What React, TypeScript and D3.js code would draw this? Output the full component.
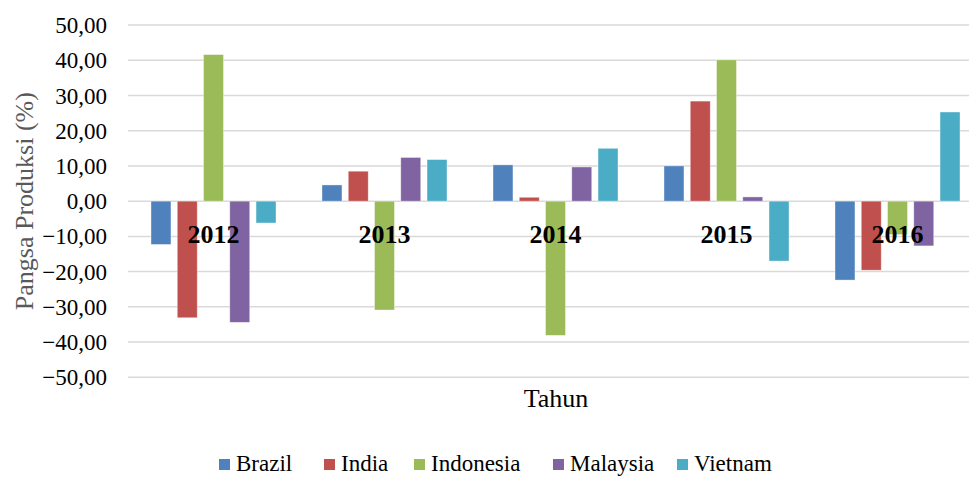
import * as d3 from "d3";
import { useEffect, useRef } from "react";

const years = ["2012", "2013", "2014", "2015", "2016"];
const countries = ["Brazil", "India", "Indonesia", "Malaysia", "Vietnam"];
const colors = ["#4F81BD", "#C0504D", "#9BBB59", "#8064A2", "#4BACC6"];

// pangsa produksi (%) per country, one value per year
const brazil = [-12.3, 4.6, 10.3, 10.0, -22.4];
const india = [-33.1, 8.5, 1.1, 28.4, -19.6];
const indonesia = [41.6, -30.9, -38.1, 40.1, -9.5];
const malaysia = [-34.4, 12.4, 9.7, 1.2, -12.7];
const vietnam = [-6.2, 11.8, 15.0, -17.0, 25.3];

const yTicks = [50, 40, 30, 20, 10, 0, -10, -20, -30, -40, -50];

const WIDTH = 969;
const HEIGHT = 477;
const FONT = "Liberation Serif";

export default function App() {
  const svgRef = useRef<SVGSVGElement>(null);

  useEffect(() => {
    if (!svgRef.current) return;
    const svg = d3.select(svgRef.current);
    svg.selectAll("*").remove();

    const series = [brazil, india, indonesia, malaysia, vietnam];
    const left = 128;
    const right = 983; // plot runs past the right edge, as in the source

    const y = d3.scaleLinear().domain([-50, 50]).range([377.3, 25]);
    const x0 = d3.scaleBand().domain(years).range([left, right]);
    const x1 = d3
      .scaleBand()
      .domain(countries)
      .range([23, x0.bandwidth() - 23])
      .paddingInner(0.24);

    // Grid lines
    svg
      .append("g")
      .selectAll("line")
      .data(yTicks)
      .join("line")
      .attr("x1", left)
      .attr("x2", WIDTH)
      .attr("y1", (d) => y(d))
      .attr("y2", (d) => y(d))
      .style("stroke", "#d9d9d9")
      .style("stroke-width", 1.5);

    // Tick labels
    svg
      .append("g")
      .selectAll("text")
      .data(yTicks)
      .join("text")
      .attr("x", 107)
      .attr("y", (d) => y(d))
      .attr("dy", "0.35em")
      .attr("text-anchor", "end")
      .attr("font-family", FONT)
      .attr("font-size", 23)
      .attr("fill", "#000")
      .text((d) => d3.format(".2f")(d).replace(".", ","));

    // Bars
    const groups = svg
      .append("g")
      .selectAll("g")
      .data(years)
      .join("g")
      .attr("transform", (d) => `translate(${x0(d)},0)`);

    groups
      .selectAll("rect")
      .data((_, i) => countries.map((c, j) => ({ c, j, v: series[j][i] })))
      .join("rect")
      .attr("x", (d) => x1(d.c) as number)
      .attr("width", x1.bandwidth())
      .attr("y", (d) => y(Math.max(0, d.v)))
      .attr("height", (d) => Math.abs(y(d.v) - y(0)))
      .style("fill", (d) => colors[d.j])
      .style("stroke", "#fff")
      .style("stroke-opacity", 0.5)
      .style("stroke-width", 0.75);

    // Category labels (drawn over the bars)
    svg
      .append("g")
      .selectAll("text")
      .data(years)
      .join("text")
      .attr("x", (d) => (x0(d) as number) + x0.bandwidth() / 2)
      .attr("y", 243)
      .attr("text-anchor", "middle")
      .attr("font-family", FONT)
      .attr("font-size", 26)
      .attr("font-weight", "bold")
      .attr("fill", "#000")
      .text((d) => d);

    // Axis titles
    svg
      .append("text")
      .attr("transform", `translate(33,${y(0)}) rotate(-90)`)
      .attr("text-anchor", "middle")
      .attr("font-family", FONT)
      .attr("font-size", 26)
      .attr("fill", "#595959")
      .text("Pangsa Produksi (%)");

    svg
      .append("text")
      .attr("x", 556)
      .attr("y", 407)
      .attr("text-anchor", "middle")
      .attr("font-family", FONT)
      .attr("font-size", 26)
      .attr("fill", "#000")
      .text("Tahun");

    // Legend
    const legendX = [219, 324, 414, 553, 677];
    const legend = svg
      .append("g")
      .selectAll("g")
      .data(countries)
      .join("g")
      .attr("transform", (_, i) => `translate(${legendX[i]},459)`);

    legend
      .append("rect")
      .attr("width", 11)
      .attr("height", 11)
      .style("fill", (_, i) => colors[i]);

    legend
      .append("text")
      .attr("x", 17)
      .attr("y", 12)
      .attr("font-family", FONT)
      .attr("font-size", 23)
      .attr("fill", "#000")
      .text((d) => d);
  }, []);

  return (
    <svg
      ref={svgRef}
      width={WIDTH}
      height={HEIGHT}
      style={{ position: "absolute", left: 0, top: 0, background: "#fff" }}
    />
  );
}
